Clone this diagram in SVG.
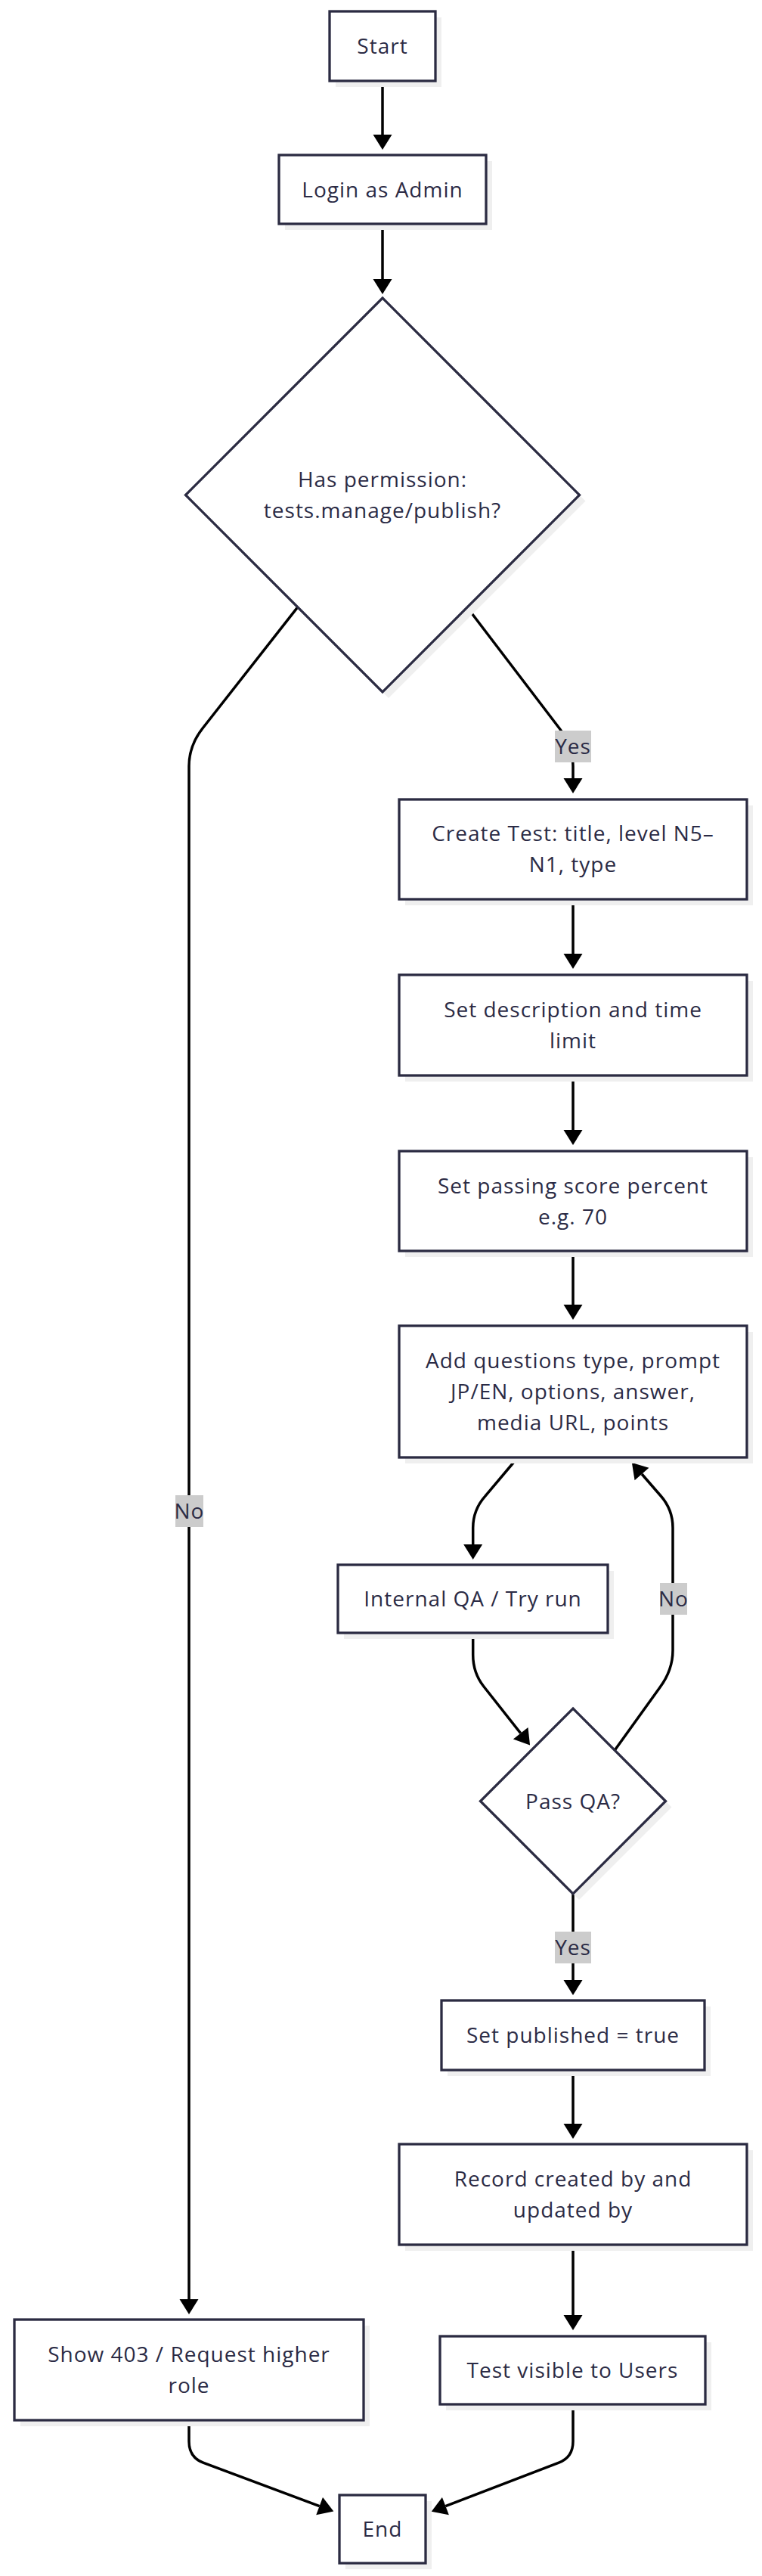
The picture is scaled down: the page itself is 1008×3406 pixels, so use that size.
<svg xmlns="http://www.w3.org/2000/svg" width="1008" height="3406" viewBox="0 0 1008 3406">
<style>
.bg{fill:#ffffff}
.node rect.shape,.node polygon.shape{fill:#ffffff;stroke:#2b2b42;stroke-width:3.3}
.node .shadow{fill:#efefef;stroke:none}
.node text{font-family:"Open Sans","Noto Sans","Liberation Sans",sans-serif;font-size:28px;fill:#2b2b45;text-anchor:middle;letter-spacing:1px}
.edges path{fill:none;stroke:#000000;stroke-width:3.5}
.elabel rect{fill:#cccccc;stroke:none}
.elabel text{font-family:"Open Sans","Noto Sans","Liberation Sans",sans-serif;font-size:28px;fill:#2b2b45;text-anchor:middle;letter-spacing:1px}
</style>
<defs>
<marker id="arrow" markerUnits="userSpaceOnUse" markerWidth="20" markerHeight="25" refX="0" refY="12.5" orient="auto" overflow="visible">
<path d="M0,0 L20,12.5 L0,25 Z" fill="#000000"/>
</marker>
</defs>
<rect class="bg" x="0" y="0" width="1008" height="3406"/>

<g id="edges" class="edges">
<path d="M506,107 L506,178" marker-end="url(#arrow)"/>
<path d="M506,296 L506,369" marker-end="url(#arrow)"/>
<path d="M393.3,803.3 L268,963 Q250,986 250,1013 L250,3040" marker-end="url(#arrow)"/>
<path d="M618,803 L740,963 Q758,986 758,1013 L758,1029" marker-end="url(#arrow)"/>
<path d="M758,1189 L758,1261" marker-end="url(#arrow)"/>
<path d="M758,1422 L758,1494" marker-end="url(#arrow)"/>
<path d="M758,1654 L758,1725" marker-end="url(#arrow)"/>
<path d="M685,1927 L641.7,1978.3 Q625.7,1996.4 625.7,2020 L625.7,2042" marker-end="url(#arrow)"/>
<path d="M625.7,2159 L625.7,2188 Q625.7,2212 640,2230 L688.7,2291.7" marker-end="url(#arrow)"/>
<path d="M813.3,2314 L873,2231 Q890,2208 890,2182 L890,2020 Q890,1996 874.2,1978 L849,1949" marker-end="url(#arrow)"/>
<path d="M758,2504 L758,2618" marker-end="url(#arrow)"/>
<path d="M758,2737 L758,2808" marker-end="url(#arrow)"/>
<path d="M758,2968 L758,3061" marker-end="url(#arrow)"/>
<path d="M758,3179 L758,3228 Q758,3249 739.3,3256.1 L589.4,3313.6" marker-end="url(#arrow)"/>
<path d="M250,3200 L250,3228 Q250,3249 268.7,3256.1 L422.6,3313.6" marker-end="url(#arrow)"/>
</g>

<g id="edge-labels">
<g class="elabel" id="label-no-1"><rect x="232" y="1977" width="37" height="42"/><text x="250.5" y="2008">No</text></g>
<g class="elabel" id="label-yes-1"><rect x="734" y="966" width="48" height="42"/><text x="758" y="997">Yes</text></g>
<g class="elabel" id="label-no-2"><rect x="873" y="2093" width="36" height="42"/><text x="891" y="2124">No</text></g>
<g class="elabel" id="label-yes-2"><rect x="734" y="2554" width="48" height="42"/><text x="758" y="2585">Yes</text></g>
</g>

<g id="node-start" class="node">
<rect class="shadow" x="444" y="23" width="140" height="92"/>
<rect class="shape" x="436" y="15" width="140" height="92"/>
<text x="506" y="71">Start</text>
</g>

<g id="node-login" class="node">
<rect class="shadow" x="377" y="213" width="274" height="91"/>
<rect class="shape" x="369" y="205" width="274" height="91"/>
<text x="506" y="260.5">Login as Admin</text>
</g>

<g id="node-permission" class="node">
<polygon class="shadow" points="514,402 774.5,662.5 514,923 253.5,662.5"/>
<polygon class="shape" points="506,394 766.5,654.5 506,915 245.5,654.5"/>
<text x="506" y="644">Has permission:</text>
<text x="506" y="685">tests.manage/publish?</text>
</g>

<g id="node-create" class="node">
<rect class="shadow" x="536" y="1065" width="460" height="132"/>
<rect class="shape" x="528" y="1057" width="460" height="132"/>
<text x="758" y="1112">Create Test: title, level N5–</text>
<text x="758" y="1153">N1, type</text>
</g>

<g id="node-description" class="node">
<rect class="shadow" x="536" y="1297" width="460" height="133"/>
<rect class="shape" x="528" y="1289" width="460" height="133"/>
<text x="758" y="1345">Set description and time</text>
<text x="758" y="1386">limit</text>
</g>

<g id="node-passing" class="node">
<rect class="shadow" x="536" y="1530" width="460" height="132"/>
<rect class="shape" x="528" y="1522" width="460" height="132"/>
<text x="758" y="1577.5">Set passing score percent</text>
<text x="758" y="1618.5">e.g. 70</text>
</g>

<g id="node-questions" class="node">
<rect class="shadow" x="536" y="1761" width="460" height="174"/>
<rect class="shape" x="528" y="1753" width="460" height="174"/>
<text x="758" y="1809">Add questions type, prompt</text>
<text x="758" y="1850">JP/EN, options, answer,</text>
<text x="758" y="1891">media URL, points</text>
</g>

<g id="node-internal-qa" class="node">
<rect class="shadow" x="455" y="2077" width="357" height="90"/>
<rect class="shape" x="447" y="2069" width="357" height="90"/>
<text x="625.5" y="2124">Internal QA / Try run</text>
</g>

<g id="node-pass-qa" class="node">
<polygon class="shadow" points="766,2267 888.5,2389.5 766,2512 643.5,2389.5"/>
<polygon class="shape" points="758,2259 880.5,2381.5 758,2504 635.5,2381.5"/>
<text x="758" y="2391.5">Pass QA?</text>
</g>

<g id="node-published" class="node">
<rect class="shadow" x="592" y="2653" width="348" height="92"/>
<rect class="shape" x="584" y="2645" width="348" height="92"/>
<text x="758" y="2701">Set published = true</text>
</g>

<g id="node-record" class="node">
<rect class="shadow" x="536" y="2843" width="460" height="133"/>
<rect class="shape" x="528" y="2835" width="460" height="133"/>
<text x="758" y="2891">Record created by and</text>
<text x="758" y="2932">updated by</text>
</g>

<g id="node-visible" class="node">
<rect class="shadow" x="590" y="3097" width="351" height="90"/>
<rect class="shape" x="582" y="3089" width="351" height="90"/>
<text x="757.5" y="3144">Test visible to Users</text>
</g>

<g id="node-forbidden" class="node">
<rect class="shadow" x="27" y="3075" width="462" height="133"/>
<rect class="shape" x="19" y="3067" width="462" height="133"/>
<text x="250" y="3123">Show 403 / Request higher</text>
<text x="250" y="3164">role</text>
</g>

<g id="node-end" class="node">
<rect class="shadow" x="457" y="3307" width="114" height="90"/>
<rect class="shape" x="449" y="3299" width="114" height="90"/>
<text x="506" y="3354">End</text>
</g>
</svg>
